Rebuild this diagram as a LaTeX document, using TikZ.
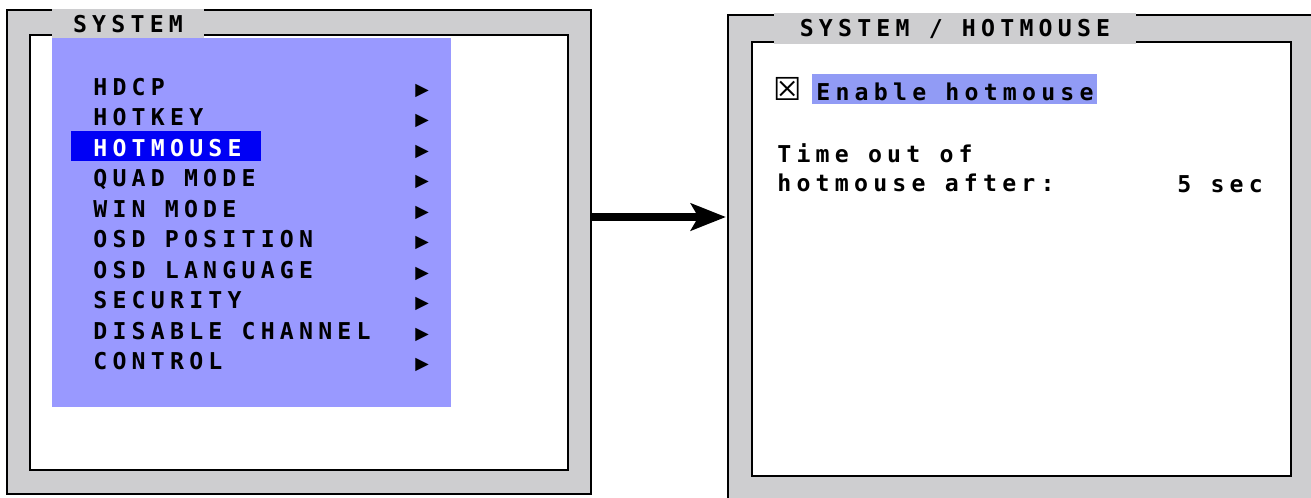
\documentclass[tikz,border=0pt]{standalone}
\usepackage{fontspec}
\usetikzlibrary{positioning,arrows.meta}
\newfontfamily\osdfont[LetterSpace=22.5]{DejaVu Sans Mono}
\newfontfamily\symfont{DejaVu Sans}
\definecolor{osdgray}{RGB}{206,206,208}
\definecolor{menublue}{RGB}{153,153,255}
\definecolor{selblue}{RGB}{0,0,245}
\definecolor{optblue}{RGB}{145,155,245}
\newcommand{\tri}{{\color{black}\symfont\fontsize{10}{10}\selectfont ▶}}
\newcommand{\entry}[1]{\makebox[6.44cm][l]{#1}\tri}
\tikzset{
  frame/.style={draw=black, line width=1.3pt, fill=osdgray, inner sep=0pt},
  screen/.style={draw=black, line width=1.3pt, fill=white, inner sep=0pt},
  osd/.style={font=\fontsize{13.2}{16}\osdfont\bfseries, inner sep=0pt,
    text height=9.6pt, text depth=2.5pt},
  tab/.style={osd, fill=osdgray, minimum height=0.62cm, text depth=0pt},
  item/.style={osd},
  bar/.style={inner sep=0pt, minimum height=0.6cm},
  bigarrow/.style={-{Stealth[length=0.7cm, width=0.54cm, inset=0.15cm]}, line width=4.5pt}
}
\begin{document}
\begin{tikzpicture}[x=0.02cm, y=-0.02cm, node distance=0.611cm]
  \useasboundingbox (0,0) rectangle (1311,497);
  \clip (0,0) rectangle (1311,497);
  %% Left screen
  \node[frame, minimum width=11.68cm, minimum height=9.68cm] (sys) at (299,252) {};
  \node[screen, minimum width=10.76cm, minimum height=8.7cm] (sysin) at (299,252.5) {};
  \node[tab, minimum width=3.04cm] (systab) at (128,24) {SYSTEM};
  \node[bar, fill=menublue, minimum width=7.98cm, minimum height=7.38cm] (menu) at (251.5,222.5) {};
  \node[bar, fill=selblue, minimum width=3.8cm] (sel) at (166,146) {};
  %% Menu entries
  \node[item, anchor=base west] (hdcp) at (93,95) {\entry{HDCP}};
  \node[item, below of=hdcp] (hotkey) {\entry{HOTKEY}};
  \node[item, below of=hotkey] (hotmouse) {\entry{\color{white}HOTMOUSE}};
  \node[item, below of=hotmouse] (quad) {\entry{QUAD MODE}};
  \node[item, below of=quad] (win) {\entry{WIN MODE}};
  \node[item, below of=win] (pos) {\entry{OSD POSITION}};
  \node[item, below of=pos] (lang) {\entry{OSD LANGUAGE}};
  \node[item, below of=lang] (sec) {\entry{SECURITY}};
  \node[item, below of=sec] (disable) {\entry{DISABLE CHANNEL}};
  \node[item, below of=disable] (control) {\entry{CONTROL}};
  %% Right screen
  \node[frame, minimum width=11.74cm, minimum height=9.72cm] (hm) at (1021.5,258) {};
  \node[screen, minimum width=10.78cm, minimum height=8.68cm] (hmin) at (1021.5,259) {};
  \node[tab, minimum width=7.24cm] (hmtab) at (955,28.5) {SYSTEM / HOTMOUSE};
  \node[bar, fill=optblue, minimum width=5.7cm] (opt) at (954.5,89) {};
  \node[anchor=base west, inner sep=0pt] (chk) at (773,100) {\symfont\fontsize{18}{18}\selectfont ☒};
  \node[osd, anchor=base west] (enable) at (816,100) {Enable hotmouse};
  \node[osd, anchor=base west] (timeout) at (777,162) {Time out of};
  \node[osd, anchor=base west] (after) at ([yshift=-0.6cm]timeout.base west) {hotmouse after:};
  \node[osd, anchor=base west] (secs) at (1177,192) {5 sec};
  %% Arrow between screens
  \draw[bigarrow] ([yshift=0.7cm]sys.east) -- ([yshift=0.82cm,xshift=-0.02cm]hm.west);
\end{tikzpicture}
\end{document}
